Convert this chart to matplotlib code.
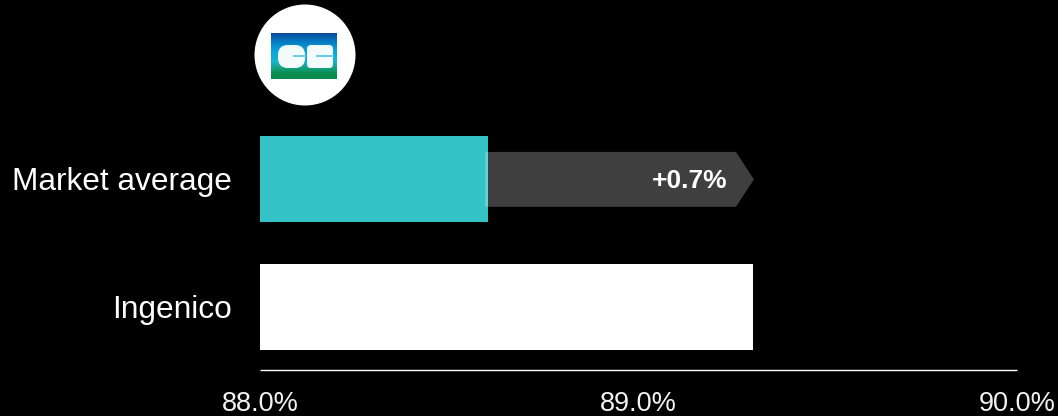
import numpy as np
import matplotlib
matplotlib.use("Agg")
import matplotlib.pyplot as plt
from matplotlib.patches import Circle, FancyBboxPatch, Polygon, Rectangle
from matplotlib.colors import LinearSegmentedColormap

categories = ["Market average", "Ingenico"]
values = [88.603, 89.303]
bar_colors = ["#33C3C6", "#FFFFFF"]
delta = 0.7
delta_label = "+0.7%"
tick_values = [88.0, 89.0, 90.0]
tick_labels = ["88.0%", "89.0%", "90.0%"]

W, H = 1058, 416
plt.rcParams["font.family"] = ["Liberation Sans", "DejaVu Sans"]
fig = plt.figure(figsize=(W / 100, H / 100), dpi=100, facecolor="black")

# main axes: x 260..1017, y 115..370.5 px
ax = fig.add_axes([260 / W, 1 - 370.5 / H, 757 / W, 255.5 / H], facecolor="black")
y = np.arange(len(categories))
ax.barh(y, values, left=0, height=0.672, color=bar_colors, zorder=2)
ax.set_xlim(tick_values[0], tick_values[-1])
ax.set_ylim(1.5, -0.5)

# delta arrow, starting just inside the market bar
x0 = values[0] - 0.008
x1 = values[0] + delta + 0.002
tip = 18 / 378.5
half = 27.5 / 128
cy = 0.004
arrow = Polygon([(x0, cy - half), (x1 - tip, cy - half), (x1, cy), (x1 - tip, cy + half), (x0, cy + half)],
                closed=True, facecolor="#FFFFFF", edgecolor="none", alpha=0.25, zorder=3)
ax.add_patch(arrow)
ax.text(x1 - 26 / 378.5, 0.015, delta_label, color="white", fontsize=19, fontweight="bold",
        ha="right", va="center", zorder=4)

for s in ["top", "right", "left"]:
    ax.spines[s].set_visible(False)
ax.spines["bottom"].set_color("white")
ax.spines["bottom"].set_linewidth(1.0)
ax.spines["bottom"].set_capstyle("butt")
ax.spines["bottom"].set_position(("outward", -0.5))
ax.set_yticks(y)
ax.set_yticklabels(categories, color="white", fontsize=22.8)
ax.set_xticks(tick_values)
ax.set_xticklabels(tick_labels, color="#F2F2F2", fontsize=19.5)
ax.tick_params(axis="both", length=0)
ax.tick_params(axis="y", pad=20)
ax.tick_params(axis="x", pad=15)

# CB logo overlay in pixel coordinates
ov = fig.add_axes([0, 0, 1, 1], facecolor="none")
ov.set_xlim(0, W)
ov.set_ylim(H, 0)
ov.axis("off")
ov.add_patch(Circle((305, 55), 50.5, facecolor="white", edgecolor="none"))
cmap = LinearSegmentedColormap.from_list(
    "cb", [(0, "#0A4A98"), (0.15, "#0574BE"), (0.38, "#08A5DC"), (0.62, "#19B4D0"),
           (0.78, "#12A07A"), (0.88, "#0A8C52"), (1, "#0A8A4E")])
grad = np.linspace(0, 1, 64)[:, None]
ov.imshow(grad, extent=(271, 337, 79, 33), cmap=cmap, aspect="auto", zorder=2)
ov.set_xlim(0, W)
ov.set_ylim(H, 0)
white = "#F4FBFD"
def rr(x, y_, w, h, r):
    ov.add_patch(FancyBboxPatch((x + r, y_ + r), w - 2 * r, h - 2 * r,
                                boxstyle=f"round,pad={r}", facecolor=white,
                                edgecolor="none", zorder=3))
slit = "#6CCBE6"
# C
rr(278, 45, 27, 23, 10)
ov.add_patch(Rectangle((293, 54.8), 13, 2.2, facecolor=slit, edgecolor="none", zorder=4))
# B
rr(307, 45, 26, 23, 4)
ov.add_patch(Rectangle((316, 55.2), 18, 2.2, facecolor=slit, edgecolor="none", zorder=4))

fig.savefig("out.png", dpi=100, facecolor="black")
